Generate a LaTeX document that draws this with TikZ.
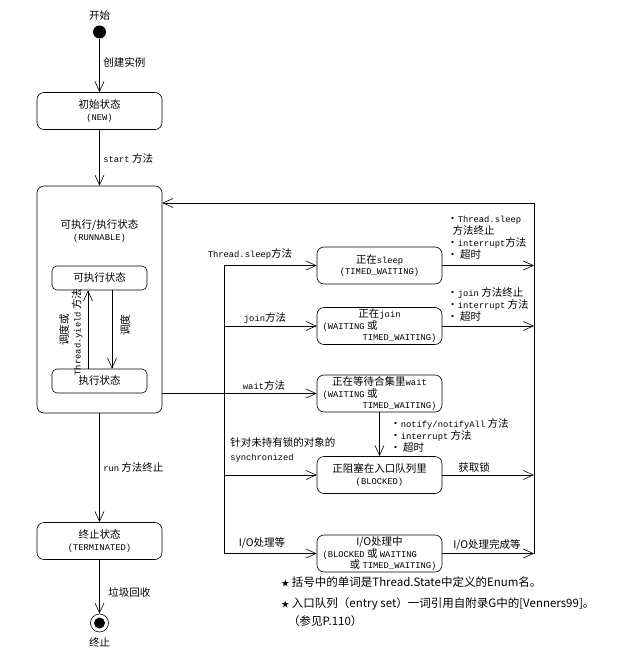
\documentclass[tikz,border=0pt]{standalone}
\usepackage{fontspec}
\setmainfont{Noto Sans CJK SC}
\setmonofont{Liberation Mono}
\usetikzlibrary{arrows.meta}
\newcommand{\cd}[1]{{\ttfamily\fontsize{8.8}{11}\selectfont #1}}
\newcommand{\lft}[1]{\makebox[114pt][l]{#1}}
\newcommand{\rgt}[1]{\makebox[114pt][r]{#1}}
\newcommand{\stmark}{{\fontsize{8}{8}\selectfont ★}}

\begin{document}
\begin{tikzpicture}[x=1pt, y=-1pt, line width=0.6pt,
    font=\fontsize{10.5}{12}\selectfont,
    state/.style={draw, rounded corners=7pt, minimum width=125pt, minimum height=37pt,
      align=center, inner sep=1pt, font=\fontsize{10.5}{11.5}\selectfont},
    substate/.style={draw, rounded corners=5pt, minimum width=95pt, minimum height=24pt},
    flow/.style={-{Straight Barb[length=10pt,width=9pt]}},
    note/.style={inner sep=0pt, align=left, anchor=west}]
  \useasboundingbox (0,0) rectangle (621,658);

  % 开始与终止
  \node[fill, circle, minimum size=13pt, inner sep=0pt, label={[label distance=1pt]above:开始}] (start) at (99.5,32) {};
  \node[draw, circle, minimum size=18pt, inner sep=0pt, label={[label distance=2pt]below:终止}] (stop) at (99.5,623) {};
  \node[fill, circle, minimum size=11pt, inner sep=0pt] (stopdot) at (stop) {};

  % 左列状态
  \node[state] (new) at (99.5,111) {初始状态\\\cd{(NEW)}};
  \node[state, minimum height=227pt] (run) at (99.5,299.5) {};
  \node[align=center] (runtitle) at (99.5,231) {可执行/执行状态\\\cd{(RUNNABLE)}};
  \node[substate] (ready) at (99.5,278) {可执行状态};
  \node[substate] (running) at (99.5,381) {执行状态};
  \node[state] (term) at (99.5,541) {终止状态\\\cd{(TERMINATED)}};

  % 右列状态
  \node[state] (sleep) at (379.5,265.5) {正在\cd{sleep}\\\cd{(TIMED\_WAITING)}};
  \node[state] (join) at (379.5,326) {正在\cd{join}\\\lft{\cd{(WAITING} 或}\\\rgt{\cd{TIMED\_WAITING)}}};
  \node[state] (wait) at (379.5,393.5) {正在等待合集里\cd{wait}\\\lft{\cd{(WAITING} 或}\\\rgt{\cd{TIMED\_WAITING)}}};
  \node[state] (blocked) at (379.5,475) {正阻塞在入口队列里\\\cd{(BLOCKED)}};
  \node[state] (io) at (379.5,553.5) {I/O处理中\\\lft{\cd{(BLOCKED} 或 \cd{WAITING}}\\\rgt{或 \cd{TIMED\_WAITING)}}};

  % 汇合线
  \coordinate (bus) at (224,0);
  \coordinate (back) at (534,0);
  \coordinate (ret) at (534,203);

  % 左列迁移
  \draw[flow] (start) -- (new);
  \draw[flow] (new) -- (run);
  \draw[flow] (run) -- (term);
  \draw[flow] (term) -- (stop);
  \draw[flow] ([xshift=-11.5pt]running.north) -- ([xshift=-11.5pt]ready.south);
  \draw[flow] ([xshift=12.5pt]ready.south) -- ([xshift=12.5pt]running.north);

  % 进入右列
  \draw (bus |- sleep.west) -- (bus |- io.west);
  \draw[flow] (bus |- sleep.west) -- (sleep.west);
  \draw[flow] (bus |- join.west) -- (join.west);
  \draw[flow] (run.east |- wait.west) -- (wait.west);
  \draw[flow] (bus |- blocked.west) -- (blocked.west);
  \draw[flow] (bus |- io.west) -- (io.west);
  \draw[flow] (wait) -- (blocked);

  % 返回 RUNNABLE
  \draw[flow] (sleep.east) -- (back |- sleep.east);
  \draw[flow] (join.east) -- (back |- join.east);
  \draw[flow] (blocked.east) -- (back |- blocked.east);
  \draw[flow] (io.east) -- (back |- io.east);
  \draw[flow] (back |- io.east) -- (ret) -- (ret -| run.east);

  % 迁移标签
  \node[note] (lnew) at (103,62) {创建实例};
  \node[note] (lstart) at (103,158) {\cd{start} 方法};
  \node[note] (lend) at (103,467) {\cd{run} 方法终止};
  \node[note] (lgc) at (108,592) {垃圾回收};
  \node[rotate=90] (lsched) at (64,330) {调度或};
  \node[rotate=90] (lyield) at (77,332) {\cd{Thread.yield} 方法};
  \node[rotate=90] (lsched2) at (125,325) {调度};
  \node (lsleep) at (250,254) {\cd{Thread.sleep}方法};
  \node (ljoin) at (265,318) {\cd{join}方法};
  \node (lwait) at (264,385) {\cd{wait}方法};
  \node[note, font=\fontsize{10.5}{14}\selectfont] (lsync) at (230,450) {针对未持有锁的对象的\\\cd{synchronized}};
  \node (lio) at (262,543) {I/O处理等};
  \node[note] (lsleepend) at (447,237.5) {•\cd{Thread.sleep}\\\hspace*{0.5em}方法终止\\•\cd{interrupt}方法\\• 超时};
  \node[note] (ljoinend) at (447,304) {•\cd{join} 方法终止\\•\cd{interrupt} 方法\\• 超时};
  \node[note] (lnotify) at (390,435) {•\cd{notify/notifyAll} 方法\\•\cd{interrupt} 方法\\• 超时};
  \node (llock) at (474,467) {获取锁};
  \node (liodone) at (487,545) {I/O处理完成等};

  % 注释
  \node[note, font=\fontsize{11.5}{18}\selectfont] (note1) at (281,582) {\stmark\ 括号中的单词是Thread.State中定义的Enum名。};
  \node[note, font=\fontsize{11.5}{18}\selectfont] (note2) at (281,612) {\stmark\ 入口队列（entry set）一词引用自附录G中的[Venners99]。\\\hspace*{0.6em}（参见P.110）};
\end{tikzpicture}
\end{document}
